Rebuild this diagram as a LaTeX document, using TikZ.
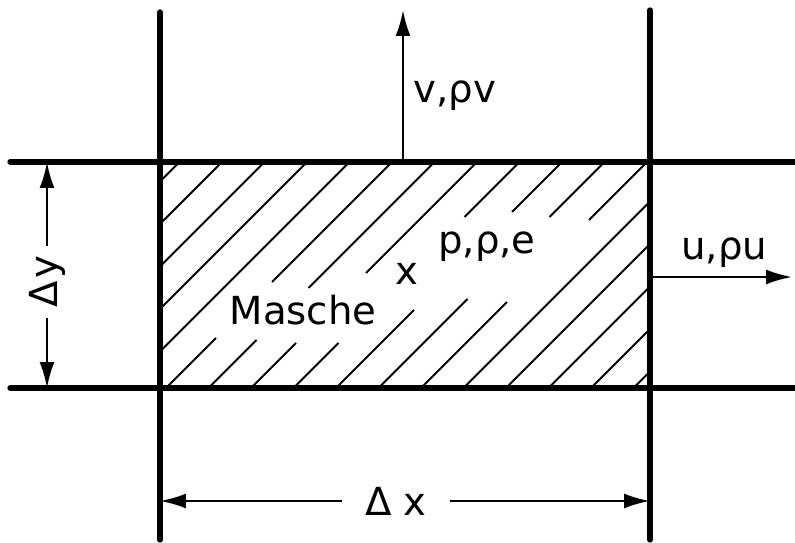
\documentclass[tikz,border=0pt]{standalone}
\usepackage{fontspec}
\setmainfont{DejaVu Sans}
\usetikzlibrary{arrows.meta}

\begin{document}
\begin{tikzpicture}[x=0.02cm, y=-0.02cm,
    wall/.style={line width=3pt, line cap=round},
    hatch/.style={line width=1.1pt},
    flow/.style={-{Latex[length=0.52cm, width=0.3cm]}, line width=1.4pt},
    lbl/.style={font=\fontsize{22}{26}\selectfont, inner sep=0pt}]
    \useasboundingbox (0,0) rectangle (795,543);

    % corners of the cell and arrow end points
    \coordinate (TL) at (160,162);
    \coordinate (TR) at (650,162);
    \coordinate (BL) at (160,388);
    \coordinate (BR) at (650,388);
    \coordinate (vtop) at (403,10);
    \coordinate (uend) at (792,277);
    \coordinate (uroot) at (650,277);
    \coordinate (dyT) at (47,162);
    \coordinate (dyB) at (47,388);
    \coordinate (dxL) at (160,501);
    \coordinate (dxR) at (650,501);

    % hatching, broken round the labels
    \begin{scope}
      \clip (TL) rectangle (BR);
      \foreach \c in {341.5, 384, 426.5, 469, 511.5, 851.5, 894, 936.5, 979, 1021.5} {
        \draw[hatch] (\c-400,400) -- (\c-150,150);
      }
      \foreach \c/\yu/\yl in {554/282/338, 596.5/288/340, 639/273/343, 681.5/217/343,
                             724/212/310, 766.5/217/299, 809/220/302} {
        \draw[hatch] (\c-400,400) -- (\c-\yl,\yl);
        \draw[hatch] (\c-\yu,\yu) -- (\c-150,150);
      }
    \end{scope}

    \draw[wall] (10,162) -- (795,162);
    \draw[wall] (10,388) -- (795,388);
    \draw[wall] (160,12) -- (160,540);
    \draw[wall] (650,10) -- (650,540);

    \node[lbl, anchor=base] (masche) at (303,325) {Masche};
    \node[lbl, anchor=base] (mid) at (407,285) {x};
    \node[lbl, anchor=base] (state) at (487,254) {p,ρ,e};

    \node[lbl, anchor=base west] (vlbl) at (413,103) {v,ρv};
    \draw[flow] (403,162) -- (vtop);
    \node[lbl, anchor=base west] (ulbl) at (681,260) {u,ρu};
    \draw[flow] (uroot) -- (uend);

    \node[lbl, rotate=90, inner sep=0.2cm] (dy) at (47,282) {Δ\kern1.5pt y};
    \draw[flow] (dy) -- (dyT);
    \draw[flow] (dy) -- (dyB);

    \node[lbl, inner xsep=0.45cm] (dx) at (396,501) {Δ x};
    \draw[flow] (dx) -- (dxL);
    \draw[flow] (dx) -- (dxR);
  \end{tikzpicture}
\end{document}
